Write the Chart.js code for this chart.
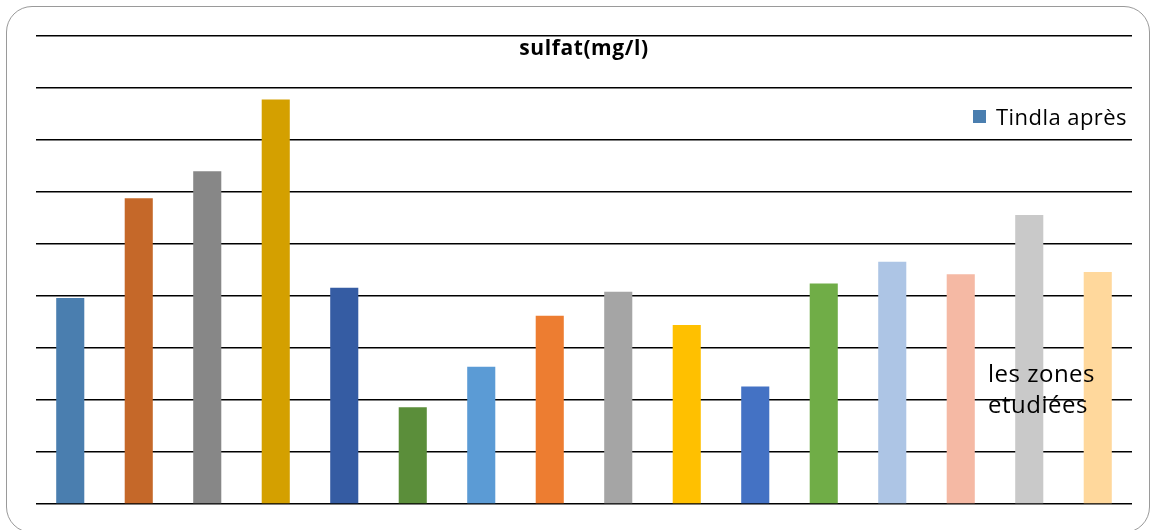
<!DOCTYPE html>
<html>
<head>
<meta charset="utf-8">
<script src="https://cdn.jsdelivr.net/npm/chart.js@4.4.1/dist/chart.umd.min.js"></script>
<style>
  html, body { margin: 0; padding: 0; background: #fff; overflow: hidden; }
  #frame {
    position: absolute; left: 6px; top: 6px; width: 1144px; height: 527px;
    border: 1px solid #9a9a9a; border-radius: 26px; box-sizing: border-box;
  }
  #c { position: absolute; left: 0; top: 0; }
</style>
</head>
<body>
<div id="frame"></div>
<canvas id="c" width="1151" height="530"></canvas>
<script>
// Sulfate concentration per studied zone
const zones = ['Zone 1', 'Zone 2', 'Zone 3', 'Zone 4', 'Zone 5', 'Zone 6', 'Zone 7', 'Zone 8',
               'Zone 9', 'Zone 10', 'Zone 11', 'Zone 12', 'Zone 13', 'Zone 14', 'Zone 15', 'Zone 16'];
const sulfat = [198, 294, 320, 389, 208, 93, 132, 181, 204, 172, 113, 212, 233, 221, 278, 223];
const barColors = ['#4A7EAF', '#C56829', '#878787', '#D4A000', '#355CA3', '#5B8E3A', '#5B9BD5', '#ED7D31',
                   '#A5A5A5', '#FFC000', '#4472C4', '#70AD47', '#ADC5E5', '#F5B9A4', '#C9C9C9', '#FFD89C'];
const seriesName = 'Tindla après';
const chartTitle = 'sulfat(mg/l)';
const zoneNote = ['les zones', 'etudiées'];
const yMin = 0, yMax = 450, yStep = 50;

const FONT = '"Open Sans", Lato, sans-serif';

function spaced(ctx, px) {
  if ('letterSpacing' in ctx) ctx.letterSpacing = px + 'px';
}

// Title, legend and zone note are drawn inside the plot area
const overlay = {
  id: 'overlay',
  afterDatasetsDraw(chart) {
    const { ctx, chartArea: a } = chart;
    ctx.save();
    ctx.fillStyle = '#000';
    ctx.textBaseline = 'alphabetic';

    ctx.font = 'bold 21px ' + FONT;
    spaced(ctx, 0.6);
    ctx.textAlign = 'center';
    ctx.fillText(chartTitle, (a.left + a.right) / 2, a.top + 19);

    const ds = chart.data.datasets[0];
    ctx.fillStyle = ds.backgroundColor[0];
    ctx.fillRect(a.right - 159, a.top + 74, 13, 13);
    ctx.fillStyle = '#000';
    ctx.font = '22px ' + FONT;
    spaced(ctx, 0.45);
    ctx.textAlign = 'left';
    ctx.fillText(ds.label, a.right - 136, a.top + 89);

    ctx.font = '24px ' + FONT;
    spaced(ctx, 0.5);
    ctx.fillText(zoneNote[0], a.right - 144, a.top + 346);
    ctx.fillText(zoneNote[1], a.right - 144, a.top + 377);
    ctx.restore();
  }
};

new Chart(document.getElementById('c'), {
  type: 'bar',
  data: {
    labels: zones,
    datasets: [{
      label: seriesName,
      data: sulfat,
      backgroundColor: barColors,
      borderWidth: 0,
      categoryPercentage: 1.0,
      barPercentage: 0.41
    }]
  },
  options: {
    responsive: false,
    animation: false,
    layout: { padding: { left: 36, right: 19, top: 36, bottom: 26 } },
    plugins: {
      legend: { display: false },
      title: { display: false },
      tooltip: { enabled: false }
    },
    scales: {
      x: {
        grid: { display: false, drawTicks: false },
        border: { display: false },
        ticks: { display: false }
      },
      y: {
        min: yMin, max: yMax,
        grid: { color: '#000', lineWidth: 1.4, drawTicks: false },
        border: { display: false },
        ticks: { display: false, stepSize: yStep }
      }
    }
  },
  plugins: [overlay]
});
</script>
</body>
</html>
